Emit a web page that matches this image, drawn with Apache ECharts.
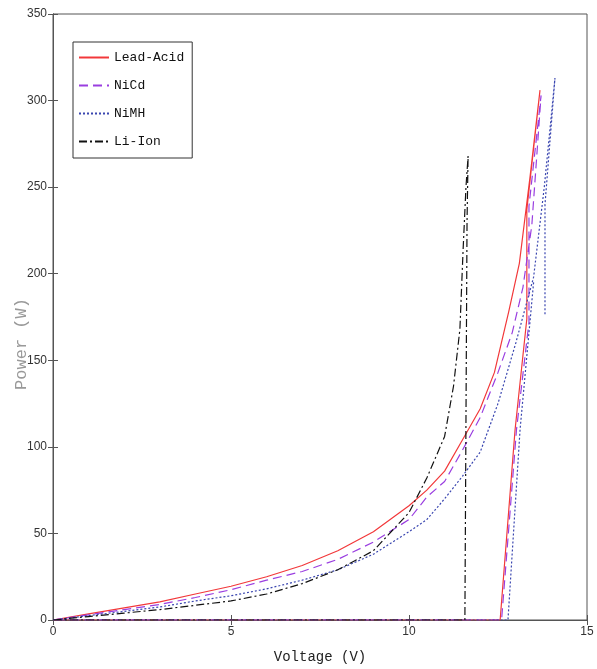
<!DOCTYPE html>
<html>
<head>
<meta charset="utf-8">
<script src="https://cdn.jsdelivr.net/npm/echarts@6/dist/echarts.min.js"></script>
<style>html,body{margin:0;padding:0;background:#fff}#c{width:597px;height:669px}</style>
</head>
<body>
<div id="c"></div>
<script>
// Data (Voltage V, Power W); null = break in the trace
const leadV = [0,1,2,3,4,5,6,7,8,9,10,10.5,11,11.5,12,12.4,12.8,13.1,13.4,13.68,13.31,13.31,12.98,12.56,0];
const leadP = [0,3.5,7,10.5,15,19.5,25,31.5,40,51,66,75,86,104,122,143,178,206,256,306,237,174,110,0,0];
const nicdV = [0,1,2,3,4,5,6,7,8,9,10,10.5,11,11.5,12,12.5,12.9,13.2,13.45,13.71,13.37,13.37,13.02,12.6,0];
const nicdP = [0,3,6,9,13,17.5,23,28,35,45,58,71,80,98,117,143,166,192,228,303,239,172,110,0,0];
const nimhV = [0,1,2,3,4,5,6,7,8,9,10,10.5,11,11.5,12,12.5,13,13.5,13.8,14.1,13.82,13.82,13.82,13.5,13.12,12.78,0];
const nimhP = [0,2.5,5,7.5,11,14,18,23,29,38,51,58,70,83,97,125,160,198,250,313,240,176,null,195,110,0,0];
const liV = [0,1,2,3,4,5,6,7,8,9,10,10.5,11,11.25,11.43,11.52,11.6,11.66,11.63,11.57,0];
const liP = [0,2,4,6,8.5,11,15,21,29,40,62,82,106,135,168,214,250,268,230,0,0];
const seriesNames = ['Lead-Acid','NiCd','NiMH','Li-Ion'];
const xTicks = [0,5,10,15];
const yTicks = [0,50,100,150,200,250,300,350];

function pairs(xs, ys){ return xs.map((x,i)=> ys[i] === null ? '-' : [x, ys[i]]); }

const tickFont = "'Liberation Sans Narrow','Liberation Sans',Arial,sans-serif";
const monoFont = "'Liberation Mono','DejaVu Sans Mono',monospace";
const axisColor = '#555';

const chart = echarts.init(document.getElementById('c'), null, {renderer:'canvas'});
const styles = [
  {color:'#f2383a', type:'solid'},
  {color:'#9a3ee0', type:[9,5]},
  {color:'#3a46b0', type:[2,2]},
  {color:'#111111', type:[8,3,2,3]}
];
const dataSets = [pairs(leadV,leadP), pairs(nicdV,nicdP), pairs(nimhV,nimhP), pairs(liV,liP)];

chart.setOption({
  animation:false,
  backgroundColor:'#fff',
  grid:{left:53, right:10, top:14, bottom:48, show:true, borderColor:axisColor, borderWidth:1},
  legend:{
    orient:'vertical', left:73, top:42,
    data: seriesNames,
    borderColor:'#333', borderWidth:1,
    padding:[9,8,10,5], itemGap:15, itemWidth:30, itemHeight:14,
    itemStyle:{opacity:0},
    textStyle:{fontFamily:monoFont, fontSize:13, color:'#111'}
  },
  graphic:[{
    type:'text', x:21, y:344, rotation:Math.PI/2,
    style:{text:'Power (W)', fontFamily:monoFont, fontSize:17, fill:'#999',
      textAlign:'center', textVerticalAlign:'middle'}
  }],
  xAxis:[{
    type:'value', min:0, max:15, interval:5,
    name:'Voltage (V)', nameLocation:'middle', nameGap:30,
    nameTextStyle:{fontFamily:monoFont, fontSize:14, color:'#222'},
    axisLine:{show:true, lineStyle:{color:axisColor}},
    axisTick:{show:true, inside:true, length:5, lineStyle:{color:axisColor}},
    axisLabel:{fontFamily:tickFont, fontSize:12, color:'#333', margin:6,
      formatter:v=> xTicks.includes(v) ? String(v) : ''},
    splitLine:{show:false}
  },{
    type:'value', min:0, max:15, interval:5, position:'top',
    axisLine:{show:true, lineStyle:{color:axisColor}},
    axisTick:{show:true, inside:true, length:5, lineStyle:{color:axisColor}},
    axisLabel:{show:false}, splitLine:{show:false}
  }],
  yAxis:[{
    type:'value', min:0, max:350, interval:50,
    axisLine:{show:true, lineStyle:{color:axisColor}},
    axisTick:{show:true, inside:true, length:5, lineStyle:{color:axisColor}},
    axisLabel:{fontFamily:tickFont, fontSize:12, color:'#333', margin:6,
      formatter:v=> yTicks.includes(v) ? String(v) : ''},
    splitLine:{show:false}
  },{
    type:'value', min:0, max:350, interval:50, position:'right',
    axisLine:{show:true, lineStyle:{color:axisColor}},
    axisTick:{show:true, inside:true, length:5, lineStyle:{color:axisColor}},
    axisLabel:{show:false}, splitLine:{show:false}
  }],
  series: seriesNames.map((n,i)=>({
    name:n, type:'line', data:dataSets[i], symbol:'none', showSymbol:false,
    smooth:false, clip:true, connectNulls:false,
    lineStyle:{color:styles[i].color, type:styles[i].type, width:1.2},
    itemStyle:{color:styles[i].color}
  }))
});
</script>
</body>
</html>
